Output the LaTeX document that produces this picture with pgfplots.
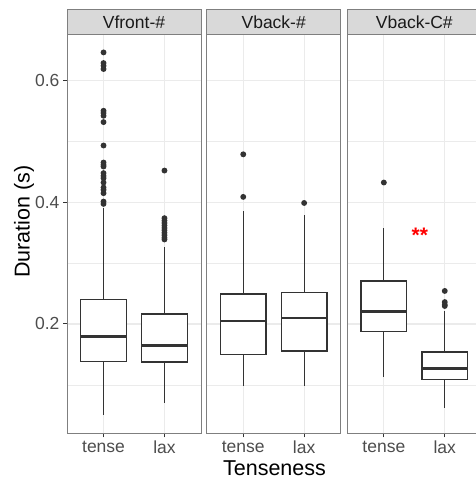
\documentclass[border=0pt]{standalone}
\usepackage{fontspec}
\setmainfont{Liberation Sans}
\usepackage{pgfplots}
\pgfplotsset{compat=1.18}
\usepgfplotslibrary{statistics}
\definecolor{gridc}{HTML}{EBEBEB}
\definecolor{tickc}{HTML}{4D4D4D}
\definecolor{boxc}{HTML}{333333}
\definecolor{stripfill}{HTML}{D9D9D9}
\definecolor{borderc}{HTML}{7F7F7F}
\definecolor{stripc}{HTML}{1A1A1A}

\pgfplotsset{
  panel/.style={
    scale only axis, width=134pt, height=399pt,
    xmin=0.4, xmax=2.6, ymin=0.0202, ymax=0.6764,
    xtick={1,2}, xticklabels={tense,lax},
    ytick={0.2,0.4,0.6}, minor ytick={0.1,0.3,0.5},
    grid=both,
    major grid style={gridc, line width=1.1pt},
    minor grid style={gridc, line width=0.55pt},
    axis line style={borderc, line width=1pt},
    tick align=outside, major tick length=4pt, minor tick length=0pt,
    tick style={boxc, line width=1pt},
    xtick pos=bottom, ytick pos=left,
    tick label style={font=\fontsize{17.5}{20}\selectfont, text=tickc},
    /pgf/number format/assume math mode=true,
    yticklabel style={/pgf/number format/fixed, /pgf/number format/precision=1, /pgf/number format/fixed zerofill},
    clip=false,
    boxplot/draw direction=y,
    boxplot/box extend=0.75,
    boxplot/whisker extend=0,
    boxplot/every median/.style={line width=2.8pt},
  },
  bx/.style={boxc, line width=1.2pt, fill=white, solid,
    mark=*, mark size=2.3pt, mark options={fill=boxc, draw=none}},
}
\newcommand{\strip}[1]{%
  \draw[fill=stripfill, draw=borderc, line width=1pt] (rel axis cs:0,1) rectangle ([yshift=24.6pt]rel axis cs:1,1);
  \node[text=stripc, font=\fontsize{17.5}{20}\selectfont] at ([yshift=12.3pt]rel axis cs:0.5,1) {#1};
}

\begin{document}
\begin{tikzpicture}
% Panel 1
\begin{axis}[panel, at={(0pt,0pt)}]
\addplot[bx, boxplot prepared={draw position=1, lower whisker=0.050, lower quartile=0.1386, median=0.180, upper quartile=0.240, upper whisker=0.390}]
 table[row sep=\\, y index=0] {y\\0.6466\\0.6291\\0.6247\\0.6193\\0.5506\\0.5468\\0.5424\\0.5320\\0.4935\\0.4655\\0.4617\\0.4589\\0.4481\\0.4436\\0.4398\\0.4326\\0.4244\\0.4206\\0.4151\\0.4013\\0.3975\\};
\addplot[bx, boxplot prepared={draw position=2, lower whisker=0.0705, lower quartile=0.1374, median=0.165, upper quartile=0.2165, upper whisker=0.327}]
 table[row sep=\\, y index=0] {y\\0.4523\\0.374\\0.370\\0.366\\0.362\\0.358\\0.354\\0.350\\0.346\\0.342\\0.339\\};
\strip{Vfront-\#}
\end{axis}
% Panel 2
\begin{axis}[panel, at={(139.7pt,0pt)}, yticklabels={}, ytick style={draw=none}]
\addplot[bx, boxplot prepared={draw position=1, lower whisker=0.098, lower quartile=0.150, median=0.205, upper quartile=0.2494, upper whisker=0.385}]
 table[row sep=\\, y index=0] {y\\0.479\\0.409\\};
\addplot[bx, boxplot prepared={draw position=2, lower whisker=0.098, lower quartile=0.1556, median=0.2099, upper quartile=0.2515, upper whisker=0.379}]
 table[row sep=\\, y index=0] {y\\0.399\\};
\strip{Vback-\#}
\end{axis}
% Panel 3
\begin{axis}[panel, at={(280.3pt,0pt)}, yticklabels={}, ytick style={draw=none}]
\addplot[bx, boxplot prepared={draw position=1, lower whisker=0.1122, lower quartile=0.188, median=0.2209, upper quartile=0.2708, upper whisker=0.3575}]
 table[row sep=\\, y index=0] {y\\0.4326\\};
\addplot[bx, boxplot prepared={draw position=2, lower whisker=0.0612, lower quartile=0.109, median=0.1265, upper quartile=0.1539, upper whisker=0.2214}]
 table[row sep=\\, y index=0] {y\\0.2543\\0.236\\0.2316\\0.2296\\};
\strip{Vback-C\#}
\node[text=red, anchor=base, font=\bfseries\fontsize{21}{24}\selectfont] at (axis cs:1.59,0.334) {**};
\end{axis}
\node[rotate=90, font=\fontsize{21.5}{24}\selectfont] at (-43pt,211.8pt) {Duration (s)};
\node[anchor=base, font=\fontsize{21.5}{24}\selectfont] at (207.5pt,-41.7pt) {Tenseness};
\pgfresetboundingbox
\useasboundingbox (-67pt,-45.7pt) rectangle (409pt,433.3pt);
\end{tikzpicture}
\end{document}
